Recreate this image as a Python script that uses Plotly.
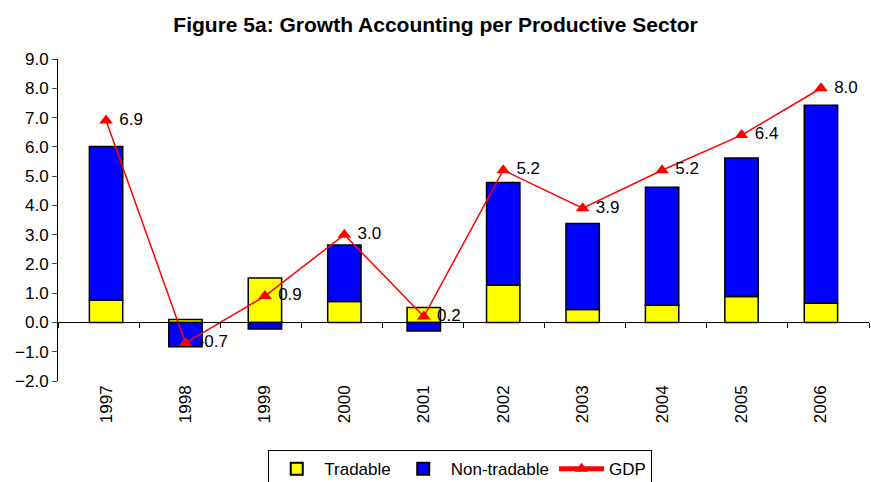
import plotly.graph_objects as go

years = ["1997", "1998", "1999", "2000", "2001", "2002", "2003", "2004", "2005", "2006"]
tradable = [0.76, 0.10, 1.52, 0.72, 0.51, 1.28, 0.44, 0.59, 0.89, 0.66]
non_tradable = [5.25, -0.83, -0.22, 1.93, -0.29, 3.50, 2.94, 4.03, 4.73, 6.76]
gdp = [6.9, -0.7, 0.9, 3.0, 0.2, 5.2, 3.9, 5.2, 6.4, 8.0]
y_ticks = [-2, -1, 0, 1, 2, 3, 4, 5, 6, 7, 8, 9]

font_family = "Liberation Sans, Arial, sans-serif"

fig = go.Figure()
fig.add_trace(go.Bar(
    x=years, y=tradable, name="Tradable",
    marker=dict(color="#FFFF00", line=dict(color="black", width=1.5)),
))
fig.add_trace(go.Bar(
    x=years, y=non_tradable, name="Non-tradable",
    marker=dict(color="#0000FF", line=dict(color="black", width=1.5)),
))
fig.add_trace(go.Scatter(
    x=years, y=gdp, name="GDP", mode="lines+markers+text",
    line=dict(color="#FF0000", width=1.5),
    marker=dict(symbol="triangle-up", size=12, color="#FF0000"),
    text=[" " + f"{v:.1f}" for v in gdp], textposition="middle right",
    textfont=dict(size=17, color="black", family=font_family),
    cliponaxis=False,
))
# invisible trace carrying the zero-level axis with ticks at category boundaries
n = len(years)
fig.add_trace(go.Scatter(x=[-0.5, n - 0.5], y=[0, 0], xaxis="x2", mode="lines",
                         line=dict(color="rgba(0,0,0,0)"), showlegend=False, hoverinfo="skip"))

fig.update_layout(
    width=871, height=482,
    margin=dict(l=58, r=2, t=59, b=101, autoexpand=False),
    paper_bgcolor="white", plot_bgcolor="white",
    barmode="relative", bargap=0.58,
    font=dict(family=font_family, size=17, color="black"),
    title=dict(text="<b>Figure 5a: Growth Accounting per Productive Sector</b>",
               x=0.5, xanchor="center", y=0.948, yanchor="middle",
               font=dict(size=21, family=font_family)),
    xaxis=dict(type="category", showline=False, ticks="", tickangle=-90,
               tickfont=dict(size=17), showgrid=False, zeroline=False, automargin=False),
    xaxis2=dict(overlaying="x", anchor="free", position=2 / 11, range=[-0.5, n - 0.5],
                tickvals=[i - 0.5 for i in range(n + 1)], showticklabels=False,
                ticks="outside", ticklen=5, tickcolor="black", showline=True,
                linecolor="black", linewidth=1, showgrid=False, zeroline=False),
    yaxis=dict(range=[-2, 9], tickvals=y_ticks, tickformat=".1f", ticks="outside",
               ticklen=5, showline=True, linecolor="black", linewidth=1,
               showgrid=False, zeroline=False, tickfont=dict(size=17), automargin=False),
    legend=dict(orientation="h", x=0.496, xanchor="center", y=-0.215, yanchor="top",
                bordercolor="black", borderwidth=1, font=dict(size=17),
                itemsizing="constant", tracegroupgap=0, itemwidth=45),
)

fig.write_html("out.html", post_script="document.body.style.margin='0';",
               config={"displayModeBar": False})
